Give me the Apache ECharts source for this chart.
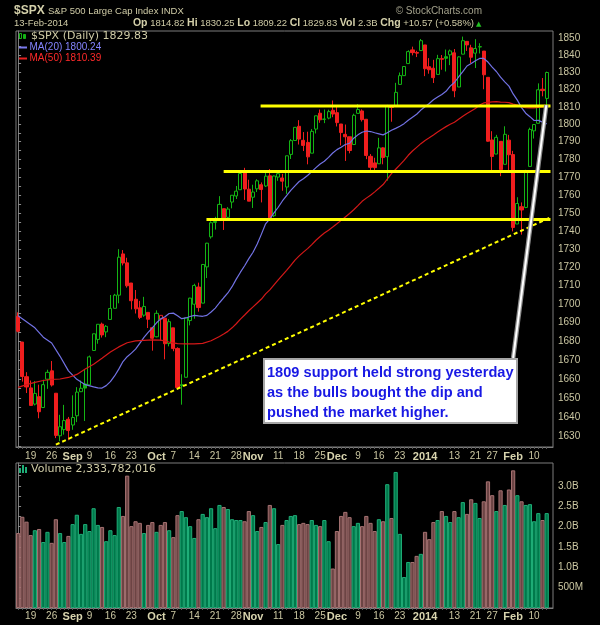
<!DOCTYPE html>
<html>
<head>
<meta charset="utf-8">
<title>$SPX Daily</title>
<script src="https://cdn.jsdelivr.net/npm/echarts@6/dist/echarts.min.js"></script>
<style>
html, body { margin: 0; padding: 0; background: #000; }
#chart { width: 600px; height: 625px; }
</style>
</head>
<body>
<div id="chart"></div>
<script>
// trading days shown on the chart
var dates = [
  '2013-08-14','2013-08-15','2013-08-16','2013-08-19','2013-08-20','2013-08-21','2013-08-22','2013-08-23','2013-08-26','2013-08-27','2013-08-28','2013-08-29','2013-08-30',
  '2013-09-03','2013-09-04','2013-09-05','2013-09-06','2013-09-09','2013-09-10','2013-09-11','2013-09-12','2013-09-13','2013-09-16','2013-09-17','2013-09-18','2013-09-19','2013-09-20','2013-09-23','2013-09-24','2013-09-25','2013-09-26','2013-09-27','2013-09-30',
  '2013-10-01','2013-10-02','2013-10-03','2013-10-04','2013-10-07','2013-10-08','2013-10-09','2013-10-10','2013-10-11','2013-10-14','2013-10-15','2013-10-16','2013-10-17','2013-10-18','2013-10-21','2013-10-22','2013-10-23','2013-10-24','2013-10-25','2013-10-28','2013-10-29','2013-10-30','2013-10-31',
  '2013-11-01','2013-11-04','2013-11-05','2013-11-06','2013-11-07','2013-11-08','2013-11-11','2013-11-12','2013-11-13','2013-11-14','2013-11-15','2013-11-18','2013-11-19','2013-11-20','2013-11-21','2013-11-22','2013-11-25','2013-11-26','2013-11-27','2013-11-29',
  '2013-12-02','2013-12-03','2013-12-04','2013-12-05','2013-12-06','2013-12-09','2013-12-10','2013-12-11','2013-12-12','2013-12-13','2013-12-16','2013-12-17','2013-12-18','2013-12-19','2013-12-20','2013-12-23','2013-12-24','2013-12-26','2013-12-27','2013-12-30','2013-12-31',
  '2014-01-02','2014-01-03','2014-01-06','2014-01-07','2014-01-08','2014-01-09','2014-01-10','2014-01-13','2014-01-14','2014-01-15','2014-01-16','2014-01-17','2014-01-21','2014-01-22','2014-01-23','2014-01-24','2014-01-27','2014-01-28','2014-01-29','2014-01-30','2014-01-31',
  '2014-02-03','2014-02-04','2014-02-05','2014-02-06','2014-02-07','2014-02-10','2014-02-11','2014-02-12','2014-02-13'
];

var opens = [
  1693.4,1679.6,1661.2,1655.3,1646.8,1650.7,1645.0,1659.9,1664.3,1652.5,1630.3,1633.5,1638.9,
  1635.9,1640.7,1653.3,1657.4,1656.9,1675.1,1681.0,1689.2,1685.0,1691.7,1697.7,1704.8,1727.3,1722.4,1711.4,1702.6,1698.0,1694.0,1695.5,1687.3,
  1682.4,1691.9,1692.4,1678.8,1687.2,1676.2,1657.0,1660.9,1691.1,1699.9,1709.2,1700.5,1720.2,1736.7,1745.2,1746.5,1752.3,1747.5,1756.0,1759.4,1762.9,1772.3,1763.2,
  1758.7,1763.4,1765.7,1765.0,1770.7,1748.4,1770.0,1769.5,1764.4,1782.8,1790.7,1798.8,1790.8,1789.6,1783.5,1797.2,1806.3,1802.9,1803.5,1808.0,
  1806.6,1800.1,1794.2,1792.8,1788.4,1806.2,1807.6,1802.8,1781.7,1778.0,1777.5,1786.5,1781.5,1810.4,1810.4,1822.9,1828.0,1835.0,1843.0,1841.5,1842.6,
  1845.9,1833.2,1832.3,1828.7,1837.9,1839.0,1840.1,1841.3,1821.4,1840.5,1848.0,1844.2,1841.1,1844.7,1842.3,1827.0,1791.0,1783.0,1790.2,1777.2,1790.9,
  1782.7,1743.8,1753.4,1753.0,1776.0,1796.2,1800.5,1820.1,1814.8
];
var highs = [
  1695.5,1679.6,1663.6,1659.2,1658.9,1657.0,1659.6,1664.9,1669.5,1652.5,1641.2,1646.4,1640.1,
  1651.4,1655.7,1659.2,1664.8,1672.4,1684.1,1689.1,1690.0,1688.7,1704.9,1705.5,1729.9,1729.4,1725.2,1711.4,1707.6,1701.7,1703.9,1695.5,1687.3,
  1696.6,1693.9,1692.4,1691.9,1687.2,1676.8,1662.5,1692.6,1703.4,1711.0,1711.6,1721.8,1733.4,1745.3,1747.8,1759.3,1752.3,1753.2,1759.8,1765.0,1772.1,1775.2,1768.5,
  1765.7,1768.8,1767.0,1773.7,1774.5,1770.8,1773.4,1771.8,1782.0,1791.5,1798.2,1802.3,1795.5,1795.7,1797.2,1804.8,1808.4,1808.4,1808.3,1813.6,
  1810.0,1800.1,1799.8,1792.8,1806.0,1811.5,1808.5,1803.0,1783.0,1780.9,1792.2,1786.8,1811.1,1810.9,1823.8,1829.8,1833.3,1842.8,1844.9,1842.5,1849.4,
  1845.9,1838.2,1837.2,1840.1,1840.0,1843.2,1843.2,1843.5,1839.3,1850.8,1848.0,1846.0,1849.3,1846.9,1842.3,1827.0,1796.0,1793.9,1790.2,1798.8,1793.9,
  1784.8,1758.7,1755.8,1774.1,1798.0,1799.9,1823.5,1826.6,1830.3
];
var lows = [
  1684.8,1658.6,1652.6,1645.8,1646.1,1639.4,1645.0,1654.8,1656.0,1629.1,1627.5,1630.9,1628.0,
  1633.4,1637.4,1653.1,1638.0,1656.9,1675.1,1678.7,1682.0,1682.2,1691.7,1697.7,1700.4,1721.0,1708.9,1697.1,1694.9,1691.9,1693.1,1687.1,1675.0,
  1682.1,1680.3,1670.4,1677.3,1674.7,1655.0,1646.5,1660.9,1688.5,1692.1,1695.9,1700.5,1714.1,1735.7,1740.7,1746.5,1740.5,1745.5,1752.5,1757.7,1762.9,1757.2,1756.5,
  1752.7,1761.6,1755.8,1764.4,1746.2,1747.6,1767.9,1762.3,1760.6,1780.2,1790.7,1788.4,1784.7,1777.2,1783.5,1794.7,1800.8,1800.6,1802.8,1804.0,
  1798.7,1787.9,1779.1,1783.4,1788.4,1806.2,1801.5,1780.1,1772.3,1772.5,1777.5,1777.2,1768.0,1801.4,1810.4,1822.9,1828.0,1835.0,1839.8,1838.8,1842.4,
  1827.7,1829.1,1823.7,1828.7,1831.4,1830.4,1834.1,1815.5,1821.4,1840.5,1842.4,1835.2,1832.4,1840.9,1820.1,1790.0,1772.9,1783.0,1770.5,1777.2,1772.3,
  1739.7,1743.8,1737.9,1752.6,1776.0,1791.8,1800.5,1816.0,1809.2
];
var closes = [
  1685.4,1661.3,1655.8,1646.1,1652.4,1642.8,1657.0,1663.5,1656.8,1630.5,1635.0,1638.2,1633.0,
  1639.8,1653.1,1655.1,1655.2,1671.7,1684.0,1689.1,1683.4,1688.0,1697.6,1704.8,1725.5,1722.3,1709.9,1701.8,1697.4,1692.8,1698.7,1691.8,1681.6,
  1695.0,1693.9,1678.7,1690.5,1676.1,1655.5,1656.4,1692.6,1703.2,1710.1,1698.1,1721.5,1733.2,1744.5,1744.7,1754.7,1746.4,1752.1,1759.8,1762.1,1772.0,1763.3,1756.5,
  1761.6,1767.9,1763.0,1770.5,1747.2,1770.6,1771.9,1767.7,1782.0,1790.6,1798.2,1791.5,1787.9,1781.4,1795.9,1804.8,1802.5,1802.8,1807.2,1805.8,
  1800.9,1795.2,1792.8,1785.0,1805.1,1808.4,1802.6,1782.2,1775.5,1775.3,1786.5,1781.0,1810.7,1809.6,1818.3,1828.0,1833.3,1842.0,1841.4,1841.1,1848.4,
  1832.0,1831.4,1826.8,1837.9,1837.5,1838.1,1842.4,1819.2,1838.9,1848.4,1845.9,1838.7,1843.8,1844.9,1828.5,1790.3,1781.6,1792.5,1774.2,1794.2,1782.6,
  1741.9,1755.2,1751.6,1773.4,1797.0,1799.8,1819.8,1819.3,1829.8
];
// volume in billions of shares
var volumes = [
  1.84,2.24,2.12,1.79,1.91,1.94,1.62,1.87,1.60,2.18,1.84,1.62,1.77,
  2.06,2.29,1.82,2.06,1.89,2.45,2.04,1.99,1.64,1.91,1.79,2.48,2.26,3.25,2.01,2.13,2.09,1.84,2.04,2.11,
  1.87,2.04,2.11,1.91,1.74,2.28,2.38,2.23,2.01,1.72,2.18,2.31,2.23,2.45,1.96,2.53,2.48,2.43,2.18,2.16,2.16,2.13,2.38,
  2.28,1.89,1.99,2.11,2.53,2.45,1.57,2.04,2.16,2.26,2.28,2.06,2.09,2.06,2.16,2.04,2.01,2.16,1.64,0.97,
  1.89,2.26,2.36,2.23,2.01,2.09,2.01,2.26,2.09,1.89,2.18,2.13,3.04,2.21,3.34,1.82,0.76,1.13,1.13,1.28,1.33,
  1.87,1.69,2.11,2.16,2.38,2.26,2.11,2.38,2.23,2.60,2.31,2.67,2.58,2.21,2.62,3.11,2.77,2.38,2.89,2.53,2.91,
  3.38,2.77,2.62,2.53,2.55,2.13,2.33,2.16,2.33
];

// moving averages as [day index, value]
var ma20 = [
  [0,1693.7],[2,1690.5],[4,1687.2],[6,1682.2],[8,1679.1],[10,1672.0],[12,1664.3],[14,1659.8],[16,1657.0],[18,1655.8],
  [19,1655.3],[20,1655.2],[21,1656.5],[22,1658.6],[23,1661.6],[24,1665.2],[25,1669.2],[26,1671.8],[27,1673.7],[28,1675.8],
  [29,1678.9],[30,1682.1],[31,1684.8],[32,1687.2],[33,1689.9],[34,1692.0],[35,1693.2],[36,1694.9],[37,1695.1],[38,1693.7],
  [39,1692.1],[40,1692.5],[41,1693.3],[42,1693.9],[43,1693.6],[44,1693.4],[45,1693.9],[46,1695.7],[47,1697.8],[48,1700.7],
  [49,1703.4],[50,1706.0],[51,1709.4],[52,1713.5],[53,1717.3],[54,1720.8],[55,1724.7],[56,1728.2],[57,1732.8],[58,1738.2],
  [59,1743.9],[60,1746.6],[61,1750.0],[62,1753.1],[63,1756.6],[64,1759.6],[65,1762.5],[66,1765.1],[67,1767.5],[68,1769.1],
  [69,1770.9],[70,1773.1],[71,1775.3],[72,1777.4],[73,1778.9],[74,1781.1],[75,1783.6],[76,1785.5],[77,1786.9],[78,1788.4],
  [79,1789.1],[80,1792.0],[81,1793.9],[82,1795.4],[83,1796.1],[84,1795.8],[85,1795.1],[86,1794.5],[87,1793.9],[88,1795.1],
  [89,1796.5],[90,1797.6],[91,1798.8],[92,1800.3],[93,1802.3],[94,1804.0],[95,1805.7],[96,1808.1],[97,1810.0],[98,1811.9],
  [99,1814.0],[100,1815.6],[101,1817.1],[102,1818.9],[103,1821.9],[104,1824.0],[105,1827.2],[106,1830.3],[107,1833.6],[108,1835.0],
  [109,1836.7],[110,1838.0],[111,1838.0],[112,1835.9],[113,1832.9],[114,1830.4],[115,1827.1],[116,1824.4],[117,1821.9],[118,1817.4],
  [119,1813.8],[120,1809.5],[121,1806.3],[122,1804.3],[123,1802.1],[124,1802.2],[125,1801.2],[126,1800.2]
];
var ma50 = [
  [0,1655.6],[2,1657.0],[4,1658.2],[6,1659.2],[8,1659.8],[10,1660.0],[12,1660.8],[14,1662.4],[16,1665.3],[18,1667.8],
  [20,1671.0],[22,1674.3],[24,1677.0],[26,1679.2],[28,1680.2],[30,1680.5],[32,1680.8],[34,1680.6],[36,1679.6],[38,1678.8],
  [40,1678.6],[42,1678.6],[44,1678.9],[46,1680.3],[48,1682.6],
  [49,1683.9],[50,1685.3],[51,1687.2],[52,1689.4],[53,1691.9],[54,1694.1],[55,1696.4],[56,1698.5],[57,1700.6],[58,1702.7],
  [59,1705.5],[60,1707.7],[61,1710.4],[62,1713.1],[63,1715.7],[64,1718.3],[65,1721.0],[66,1723.9],[67,1726.2],[68,1728.3],
  [69,1730.2],[70,1732.4],[71,1734.8],[72,1736.9],[73,1738.8],[74,1740.4],[75,1742.1],[76,1743.9],[77,1745.8],[78,1747.7],
  [79,1749.6],[80,1751.7],[81,1754.0],[82,1756.4],[83,1758.2],[84,1759.8],[85,1761.7],[86,1763.7],[87,1765.8],[88,1768.9],
  [89,1771.9],[90,1774.4],[91,1776.9],[92,1779.4],[93,1782.3],[94,1784.7],[95,1786.8],[96,1788.9],[97,1790.7],[98,1792.2],
  [99,1793.8],[100,1795.5],[101,1797.1],[102,1798.6],[103,1800.0],[104,1801.1],[105,1802.8],[106,1804.5],[107,1806.1],[108,1807.6],
  [109,1809.0],[110,1811.0],[111,1812.2],[112,1812.5],[113,1812.8],[114,1813.0],[115,1812.7],[116,1812.6],[117,1812.4],[118,1811.5],
  [119,1811.0],[120,1810.1],[121,1809.5],[122,1809.4],[123,1809.3],[124,1809.6],[125,1809.8],[126,1810.4]
];

// drawn-in lines: support levels (start day index, price) and the trend line
var supportStart = [57.8, 49.0, 44.9];
var supportLevels = [1810.5, 1773.1, 1746.3];
var trendPts = [[9.0, 1625.7], [126.8, 1747.4]];
var pointerPts = [[118.0, 1671.1], [125.9, 1811.0]];

// axis labels
var priceTicks = [1630,1640,1650,1660,1670,1680,1690,1700,1710,1720,1730,1740,1750,1760,1770,1780,1790,1800,1810,1820,1830,1840,1850];
var volTicks = [0.5, 1.0, 1.5, 2.0, 2.5, 3.0];
var xLabelDates = ['2013-08-19','2013-08-26','2013-09-03','2013-09-09','2013-09-16','2013-09-23','2013-10-01','2013-10-07','2013-10-14','2013-10-21','2013-10-28','2013-11-01','2013-11-11','2013-11-18','2013-11-25','2013-12-02','2013-12-09','2013-12-16','2013-12-23','2014-01-02','2014-01-13','2014-01-21','2014-01-27','2014-02-03','2014-02-10'];
var xLabelText = ['19','26','Sep','9','16','23','Oct','7','14','21','28','Nov','11','18','25','Dec','9','16','23','2014','13','21','27','Feb','10'];

var chart = echarts.init(document.getElementById('chart'));

var L = Math.log;
var GREEN = '#14b414', RED = '#f01e1e', BEIGE = '#cbc7a2', BORDER = '#7c7c7c';
var xMin = -0.5, xMax = 127.5;

function isUp(i) { return i > 0 ? closes[i] >= closes[i - 1] : closes[i] >= opens[i]; }

var candleData = closes.map(function (c, i) {
  var col = isUp(i) ? GREEN : RED;
  var fill = c > opens[i] ? '#000' : col;
  return {
    value: [i, L(opens[i]), L(c), L(lows[i]), L(highs[i])],
    itemStyle: { color: fill, color0: fill, borderColor: col, borderColor0: col }
  };
});
var volData = volumes.map(function (v, i) {
  var u = isUp(i);
  return { value: [i, v], itemStyle: { color: u ? '#00794b' : '#6c4444', borderColor: u ? '#1fae78' : '#a67272' } };
});
function logPts(pts) { return pts.map(function (p) { return [p[0], L(p[1])]; }); }

var dayIdx = dates.map(function (d, i) { return i; });
var xLabelIdx = xLabelDates.map(function (d) { return dates.indexOf(d); });
function xLabel(v) {
  var t = xLabelText[xLabelIdx.indexOf(Math.round(v))];
  if (t === undefined) return '';
  return /[A-Za-z]|2014/.test(t) ? '{m|' + t + '}' : t;
}
var priceTickVals = [];
for (var p = 1625; p <= 1850; p += 5) priceTickVals.push(L(p));

function xAxisFor(grid, margin) {
  return {
    type: 'value', gridIndex: grid, min: xMin, max: xMax,
    axisLine: { lineStyle: { color: BORDER } },
    splitLine: { show: false },
    axisTick: { customValues: dayIdx, length: 2, lineStyle: { color: '#5a5a5a' } },
    axisLabel: {
      customValues: xLabelIdx, formatter: xLabel, color: BEIGE, fontSize: 10,
      fontFamily: 'Liberation Sans', margin: margin,
      rich: { m: { fontWeight: 'bold', fontSize: 11, color: '#d8d4ae', fontFamily: 'Liberation Sans' } }
    }
  };
}

function txt(x, y, s, font, fill, align) {
  return { type: 'text', x: x, y: y, z: 100, silent: true,
    style: { text: s, font: font, fill: fill, align: align || 'left', verticalAlign: 'middle' } };
}

var lineSeries = function (pts, color, width, z, dash) {
  return { type: 'line', xAxisIndex: 0, yAxisIndex: 0, data: logPts(pts), symbol: 'none', silent: true, z: z,
    lineStyle: { color: color, width: width, type: dash || 'solid' } };
};

var series = [
  { type: 'candlestick', layout: 'horizontal', xAxisIndex: 0, yAxisIndex: 0, barWidth: 3.6, z: 2,
    data: candleData, encode: { x: 0, y: [1, 2, 3, 4] }, itemStyle: { borderWidth: 1 } },
  lineSeries(ma20, '#7272e4', 1.2, 3),
  lineSeries(ma50, '#d41818', 1.2, 3),
  { type: 'bar', xAxisIndex: 1, yAxisIndex: 1, data: volData, barWidth: 4.2, itemStyle: { borderWidth: 1 } }
];
supportLevels.forEach(function (lv, k) {
  series.push(lineSeries([[supportStart[k], lv], [126.9, lv]], '#ffff00', 3, 6));
});
series.push(lineSeries(trendPts, '#ffff00', 2, 6, [4, 3]));
series.push(lineSeries(pointerPts, '#8c8c8c', 4.5, 7));
series.push(lineSeries(pointerPts, '#ffffff', 2, 8));

var ohlcText = '{b|Op} 1814.82 {b|Hi} 1830.25 {b|Lo} 1809.22 {b|Cl} 1829.83 {b|Vol} 2.3B {b|Chg} +10.57 (+0.58%)';

var graphics = [
  txt(14, 10.5, '$SPX', 'bold 12px "Liberation Sans"', '#d4d0aa'),
  txt(48, 11, 'S&P 500 Large Cap Index INDX', '9.5px "Liberation Sans"', '#cfcba6'),
  txt(482, 11, '\u00a9 StockCharts.com', '10px "Liberation Sans"', '#a4a28c', 'right'),
  txt(14, 23.5, '13-Feb-2014', '9.5px "Liberation Sans"', '#cfcba6'),
  { type: 'text', x: 474, y: 23.5, z: 100, silent: true,
    style: { text: ohlcText, font: '9.5px "Liberation Sans"', fill: '#cfcba6', align: 'right', verticalAlign: 'middle',
      rich: { b: { fontWeight: 'bold', fontSize: 10.5, fontFamily: 'Liberation Sans', fill: '#d4d0aa' } } } },
  txt(476, 24, '\u25B2', '7px "DejaVu Sans"', '#22c022'),
  // legend inside price panel
  { type: 'rect', z: 100, shape: { x: 19.5, y: 33.5, width: 2, height: 5 }, style: { fill: 'none', stroke: GREEN, lineWidth: 1 } },
  { type: 'rect', z: 100, shape: { x: 23.5, y: 34.5, width: 2, height: 4 }, style: { fill: GREEN, stroke: GREEN, lineWidth: 1 } },
  txt(31, 36.5, '$SPX (Daily) 1829.83', '11px "DejaVu Sans"', '#cfcba6'),
  { type: 'rect', z: 100, shape: { x: 19, y: 46.5, width: 8, height: 2 }, style: { fill: '#7a7aee' } },
  txt(29.5, 47.5, 'MA(20) 1800.24', '10px "Liberation Sans"', '#8484ff'),
  { type: 'rect', z: 100, shape: { x: 19, y: 57.5, width: 8, height: 2 }, style: { fill: '#e82020' } },
  txt(29.5, 58.5, 'MA(50) 1810.39', '10px "Liberation Sans"', '#ff2a2a'),
  // legend inside volume panel
  { type: 'rect', z: 100, shape: { x: 19, y: 468, width: 2, height: 5 }, style: { fill: '#1fae78' } },
  { type: 'rect', z: 100, shape: { x: 22, y: 465, width: 2, height: 8 }, style: { fill: '#1fae78' } },
  { type: 'rect', z: 100, shape: { x: 25, y: 467, width: 2, height: 6 }, style: { fill: '#1fae78' } },
  txt(31, 469.5, 'Volume 2,333,782,016', '11px "DejaVu Sans"', '#cfcba6'),
  // annotation box
  { type: 'rect', z: 110, shape: { x: 264, y: 359, width: 253, height: 64 }, style: { fill: '#ffffff', stroke: '#a6a6a6', lineWidth: 2 } },
  txt(267, 373, '1809 support held strong yesterday', 'bold 14.6px "Liberation Sans"', '#1818e4'),
  txt(267, 393, 'as the bulls bought the dip and', 'bold 14.6px "Liberation Sans"', '#1818e4'),
  txt(267, 413, 'pushed the market higher.', 'bold 14.6px "Liberation Sans"', '#1818e4')
];
graphics.slice(-3).forEach(function (g) { g.z = 111; });

var option = {
  animation: false,
  backgroundColor: '#000',
  textStyle: { fontFamily: 'Liberation Sans' },
  grid: [
    { left: 16, right: 47, top: 31, height: 416, show: true, borderColor: BORDER, borderWidth: 1, backgroundColor: '#000' },
    { left: 16, right: 47, top: 463, height: 145, show: true, borderColor: BORDER, borderWidth: 1, backgroundColor: '#000' }
  ],
  xAxis: [xAxisFor(0, 4), xAxisFor(1, 3)],
  yAxis: [
    {
      type: 'value', gridIndex: 0, position: 'right', min: L(1624.5), max: L(1854.1),
      axisLine: { show: true, lineStyle: { color: BORDER } },
      splitLine: { show: false },
      axisTick: { show: true, customValues: priceTickVals, length: 3, lineStyle: { color: '#8a8a8a' } },
      axisLabel: {
        customValues: priceTicks.map(L), color: BEIGE, fontSize: 10, margin: 5,
        formatter: function (v) { return String(Math.round(Math.exp(v))); }
      }
    },
    {
      type: 'value', gridIndex: 1, position: 'right', min: 0, max: 3.56,
      axisLine: { show: true, lineStyle: { color: BORDER } },
      splitLine: { show: false },
      axisTick: { show: true, customValues: [0.25,0.5,0.75,1,1.25,1.5,1.75,2,2.25,2.5,2.75,3,3.25,3.5], length: 3, lineStyle: { color: '#8a8a8a' } },
      axisLabel: {
        customValues: volTicks, color: BEIGE, fontSize: 10, margin: 5,
        formatter: function (v) { return v < 1 ? Math.round(v * 1000) + 'M' : v.toFixed(1) + 'B'; }
      }
    }
  ],
  series: series,
  graphic: graphics
};

option && chart.setOption(option);
</script>
</body>
</html>
